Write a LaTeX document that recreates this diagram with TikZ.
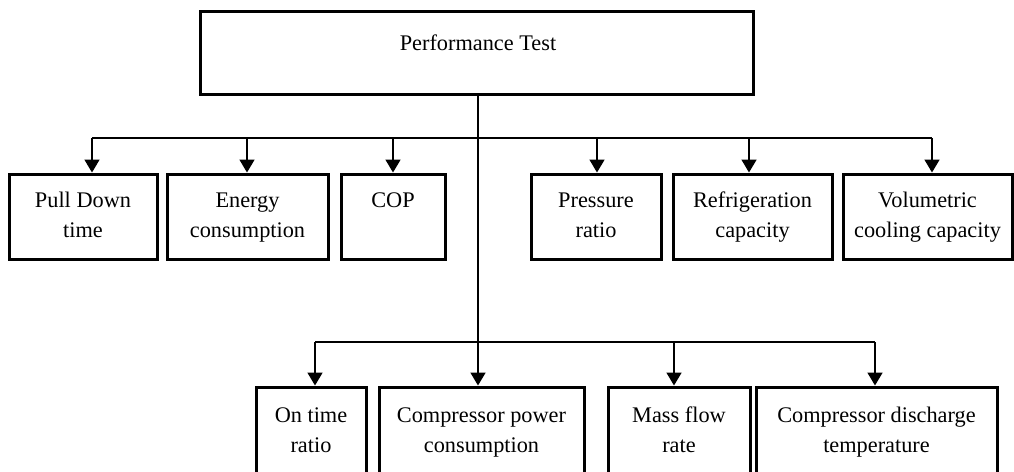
\documentclass[tikz,border=0pt]{standalone}
\usepackage{fontspec}
\setmainfont{Liberation Serif}
\usetikzlibrary{arrows.meta}
\newcommand{\twol}[2]{#1\strut\\#2\strut}
\begin{document}
\begin{tikzpicture}[x=1pt,y=-1pt,
  lbl/.style={font=\fontsize{22.3}{30}\selectfont, align=center},
  box/.style={lbl, draw, line width=3pt, inner sep=0pt},
  conn/.style={line width=1.8pt},
  arr/.style={conn, -{Triangle[length=13pt,width=15pt]}}]
\useasboundingbox (0,0) rectangle (1014,471);
\clip (0,0) rectangle (1014,471);
% top box
\node[box, minimum width=553pt, minimum height=83pt] (top) at (476.5,52.5) {};
\node[lbl, inner sep=0pt] (toptxt) at (478,43) {Performance Test};
% row 1
\node[box, minimum width=148pt, minimum height=85pt] (pd)  at (83,216.5)  {\twol{Pull Down}{time}};
\node[box, minimum width=161pt, minimum height=85pt] (ec)  at (247.5,216.5) {\twol{Energy}{consumption}};
\node[box, minimum width=104pt, minimum height=85pt] (cop) at (393,216.5) {\twol{COP}{~}};
\node[box, minimum width=130pt, minimum height=85pt] (pr)  at (596,216.5) {\twol{Pressure}{ratio}};
\node[box, minimum width=159pt, minimum height=85pt] (rc)  at (752.5,216.5) {\twol{Refrigeration}{capacity}};
\node[box, minimum width=169pt, minimum height=85pt] (vcc) at (927.5,216.5) {\twol{Volumetric}{cooling capacity}};
% row 2
\node[box, minimum width=110pt, minimum height=89pt] (otr) at (311,431.5) {\twol{On time}{ratio}};
\node[box, minimum width=205pt, minimum height=89pt] (cpc) at (481.5,431.5) {\twol{Compressor power}{consumption}};
\node[box, minimum width=142pt, minimum height=89pt] (mfr) at (679,431.5) {\twol{Mass flow}{rate}};
\node[box, minimum width=241pt, minimum height=89pt] (cdt) at (876.5,431.5) {\twol{Compressor discharge}{temperature}};
% bus coordinates
\coordinate (t1) at (478,138);
\coordinate (b1) at (92,138);
\coordinate (b2) at (247,138);
\coordinate (b3) at (393,138);
\coordinate (b4) at (597,138);
\coordinate (b5) at (749,138);
\coordinate (b6) at (932,138);
\coordinate (c1) at (315,342);
\coordinate (c2) at (674,342);
\coordinate (c3) at (875,342);
% connectors
\draw[conn] (b1) -- (b6);
\draw[conn] (c1) -- (c3);
\draw[arr] (top.south -| t1) -- (cpc.north -| t1);
\draw[arr] (b1) -- (b1 |- pd.north);
\draw[arr] (b2) -- (b2 |- ec.north);
\draw[arr] (b3) -- (b3 |- cop.north);
\draw[arr] (b4) -- (b4 |- pr.north);
\draw[arr] (b5) -- (b5 |- rc.north);
\draw[arr] (b6) -- (b6 |- vcc.north);
\draw[arr] (c1) -- (c1 |- otr.north);
\draw[arr] (c2) -- (c2 |- mfr.north);
\draw[arr] (c3) -- (c3 |- cdt.north);
\end{tikzpicture}
\end{document}
